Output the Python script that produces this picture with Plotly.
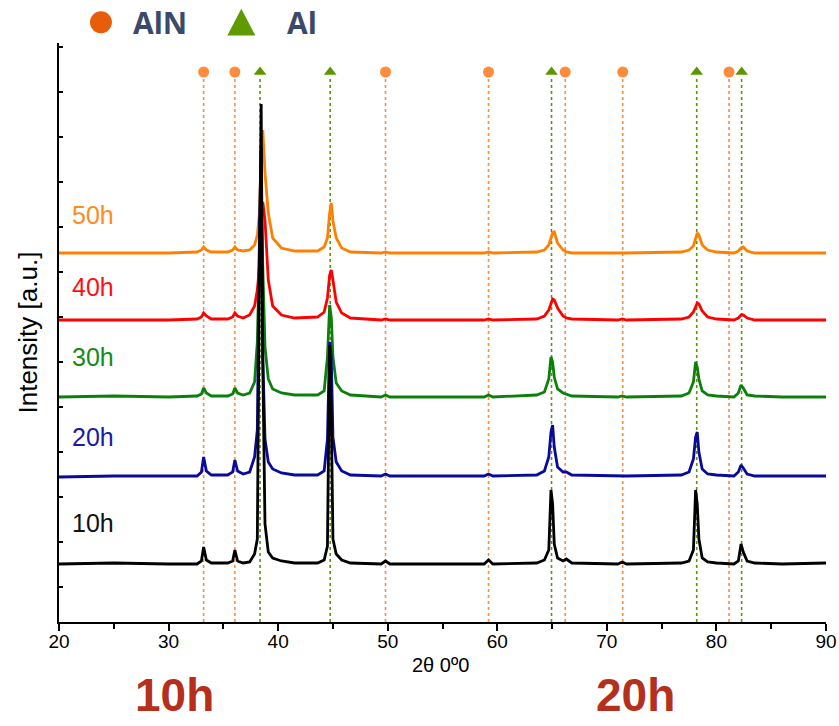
import plotly.graph_objects as go

# 2-theta sampling points shared by all patterns (degrees)
two_theta = [20, 25, 30, 32.6, 33.0, 33.2, 33.45, 33.9, 35.4, 35.85, 36.05, 36.3, 36.8,
             37.4, 37.85, 38.1, 38.3, 38.45, 38.6, 38.8, 39.1, 39.5, 40.3, 41.5,
             43.6, 44.2, 44.5, 44.7, 44.85, 45.0, 45.3, 45.8, 46.6,
             49.4, 49.8, 50.2, 58.8, 59.2, 59.6,
             63.6, 64.3, 64.7, 64.9, 65.05, 65.2, 65.5, 66.0, 66.3, 66.8,
             71.0, 71.4, 71.8,
             76.8, 77.5, 77.9, 78.1, 78.25, 78.4, 78.7, 79.2, 80.0,
             81.6, 82.0, 82.25, 82.45, 82.8, 83.5, 86, 90]

# Intensities above each pattern's own baseline (a.u.)
int_10h = [0, 1, 0, 0, 3, 17, 4, 1, 1, 3, 14, 3, 1,
           2, 10, 25, 300, 460, 200, 40, 12, 6, 3, 1,
           1, 4, 18, 219, 150, 25, 10, 4, 1,
           0, 3, 0, 0, 4, 0,
           1, 4, 14, 74, 60, 20, 6, 3, 5, 1,
           0, 2, 0,
           1, 3, 14, 74, 60, 25, 6, 2, 1,
           0, 3, 20, 12, 3, 1, 0, 1]
int_20h = [0, 1, 1, 1, 5, 20, 6, 2, 2, 5, 17, 6, 3,
           5, 20, 47, 250, 330, 120, 38, 15, 8, 4, 2,
           2, 6, 38, 135, 120, 40, 15, 6, 2,
           1, 3, 1, 1, 3, 1,
           2, 6, 20, 45, 52, 30, 10, 5, 5, 2,
           1, 1, 1,
           2, 5, 18, 40, 45, 25, 8, 3, 2,
           1, 5, 12, 9, 3, 1, 1, 1]
int_30h = [0, 1, 0, 1, 3, 9, 4, 1, 1, 3, 9, 4, 2,
           4, 15, 55, 150, 210, 130, 50, 18, 8, 4, 2,
           2, 6, 40, 92, 80, 40, 14, 6, 2,
           0, 2, 0, 0, 2, 0,
           2, 5, 18, 40, 35, 20, 8, 4, 3, 1,
           0, 1, 0,
           1, 4, 15, 35, 30, 18, 6, 2, 1,
           0, 4, 12, 9, 2, 1, 0, 0]
int_40h = [0, 0, 0, 1, 3, 7, 4, 1, 1, 3, 7, 4, 2,
           5, 14, 30, 55, 100, 118, 100, 40, 14, 5, 2,
           3, 8, 22, 45, 50, 40, 18, 7, 2,
           0, 1, 0, 0, 1, 0,
           1, 4, 10, 17, 21, 20, 12, 4, 2, 1,
           0, 1, 0,
           1, 3, 8, 13, 17, 16, 9, 3, 1,
           0, 2, 5, 5, 2, 0, 0, 0]
int_50h = [0, 0, 0, 1, 3, 6, 3, 1, 1, 3, 6, 3, 2,
           3, 8, 18, 40, 100, 123, 80, 40, 15, 5, 2,
           2, 6, 15, 40, 50, 32, 15, 5, 1,
           0, 1, 0, 0, 1, 0,
           1, 3, 8, 15, 20, 21, 10, 3, 1, 0,
           0, 0, 0,
           1, 3, 7, 14, 20, 18, 8, 3, 1,
           0, 2, 5, 6, 2, 0, 0, 0]

labels = ["10h", "20h", "30h", "40h", "50h"]
offsets = [58, 145, 225, 302, 369]          # vertical stacking of the patterns
patterns = [int_10h, int_20h, int_30h, int_40h, int_50h]
line_colors = ["#000000", "#0a0a9a", "#0a800a", "#ff0000", "#ff8000"]
label_colors = ["#111111", "#1a1aa6", "#168a16", "#ff1010", "#ff8c1a"]
label_y = [99, 185, 265, 335, 407]

# Reference reflections (2-theta, degrees)
aln_peaks = [33.2, 36.05, 49.8, 59.2, 66.2, 71.45, 81.15]
al_peaks = [38.35, 44.75, 64.95, 78.2, 82.3]
marker_level = 550

AXIS_FONT = "Liberation Sans Narrow, Arial Narrow, Liberation Sans, Arial"
ORANGE_MARK = "#ff8c3c"
GREEN_MARK = "#5e9600"

fig = go.Figure()

# dotted guide lines for each reflection
def guide_xy(peaks):
    xs, ys = [], []
    for p in peaks:
        xs += [p, p, None]
        ys += [0, marker_level - 6, None]
    return xs, ys

gx, gy = guide_xy(aln_peaks)
fig.add_trace(go.Scatter(x=gx, y=gy, mode="lines", hoverinfo="skip",
                         line=dict(color=ORANGE_MARK, width=1.6, dash="dot")))
gx, gy = guide_xy(al_peaks)
fig.add_trace(go.Scatter(x=gx, y=gy, mode="lines", hoverinfo="skip",
                         line=dict(color=GREEN_MARK, width=1.6, dash="dot")))

# diffraction patterns, longest milling time at the back
for name, vals, off, col in reversed(list(zip(labels, patterns, offsets, line_colors))):
    fig.add_trace(go.Scatter(x=two_theta, y=[v + off for v in vals], mode="lines",
                             name=name, line=dict(color=col, width=2.8)))

# phase markers above the patterns
fig.add_trace(go.Scatter(x=aln_peaks, y=[marker_level] * len(aln_peaks), mode="markers",
                         marker=dict(symbol="circle", size=11, color=ORANGE_MARK)))
fig.add_trace(go.Scatter(x=al_peaks, y=[marker_level] * len(al_peaks), mode="markers",
                         marker=dict(symbol="triangle-up", size=11, color=GREEN_MARK)))

annotations = []
for name, y, col in zip(labels, label_y, label_colors):
    annotations.append(dict(x=23.1, y=y, xref="x", yref="y", text=name, showarrow=False,
                            xanchor="center", yanchor="middle",
                            font=dict(family="Liberation Sans, Arial", size=25, color=col)))

KEY_FONT = dict(family="Open Sans", size=30, color="#3b4a6b", weight="bold")
BIG_FONT = dict(family=AXIS_FONT, size=46, color="#b5301c", weight="bold")
annotations += [
    # phase key at the top
    dict(x=0.132, y=1.036, xref="paper", yref="paper", text="AlN", showarrow=False,
         xanchor="center", yanchor="middle", font=KEY_FONT),
    dict(x=0.3165, y=1.036, xref="paper", yref="paper", text="Al", showarrow=False,
         xanchor="center", yanchor="middle", font=KEY_FONT),
    # axis titles
    dict(x=0.497, y=-0.075, xref="paper", yref="paper", text="2θ 0º0", showarrow=False,
         xanchor="center", yanchor="middle",
         font=dict(family=AXIS_FONT, size=20, color="#000000")),
    dict(x=-0.0417, y=0.5, xref="paper", yref="paper", text="Intensity [a.u.]",
         showarrow=False, textangle=-90, xanchor="center", yanchor="middle",
         font=dict(family="Liberation Sans, Arial", size=26, color="black")),
    # milling-time captions
    dict(x=0.151, y=-0.1745, xref="paper", yref="paper", text="10h", showarrow=False,
         xanchor="center", yanchor="bottom", font=BIG_FONT),
    dict(x=0.752, y=-0.1745, xref="paper", yref="paper", text="20h", showarrow=False,
         xanchor="center", yanchor="bottom", font=BIG_FONT),
]

shapes = [
    dict(type="circle", xref="paper", yref="paper", x0=0.0404, x1=0.069, y0=1.017, y1=1.055,
         fillcolor="#e85d0a", line=dict(width=0)),
    dict(type="path", xref="paper", yref="paper",
         path="M 0.2195 1.013 L 0.256 1.013 L 0.2377 1.059 Z",
         fillcolor="#5f9a00", line=dict(width=0)),
]

fig.update_layout(
    width=839, height=726,
    margin=dict(l=59, r=13, t=43, b=104),
    paper_bgcolor="white", plot_bgcolor="white",
    showlegend=False,
    annotations=annotations, shapes=shapes,
    xaxis=dict(range=[20, 90], tickmode="linear", tick0=20, dtick=10, automargin=False,
               showgrid=False, zeroline=False, showline=True, linecolor="black", linewidth=2,
               ticks="outside", ticklen=7, tickwidth=2, tickcolor="black",
               ticklabelstandoff=-6,
               minor=dict(dtick=5, ticks="outside", ticklen=5, tickwidth=1.5, tickcolor="black"),
               tickfont=dict(family=AXIS_FONT, size=19, color="black")),
    yaxis=dict(range=[0, 579], tickmode="linear", tick0=35, dtick=45, showticklabels=False,
               automargin=False,
               showgrid=False, zeroline=False, showline=True, linecolor="black", linewidth=2,
               ticks="inside", ticklen=4, tickwidth=1.5, tickcolor="black"),
)

fig.write_html("out.html")
